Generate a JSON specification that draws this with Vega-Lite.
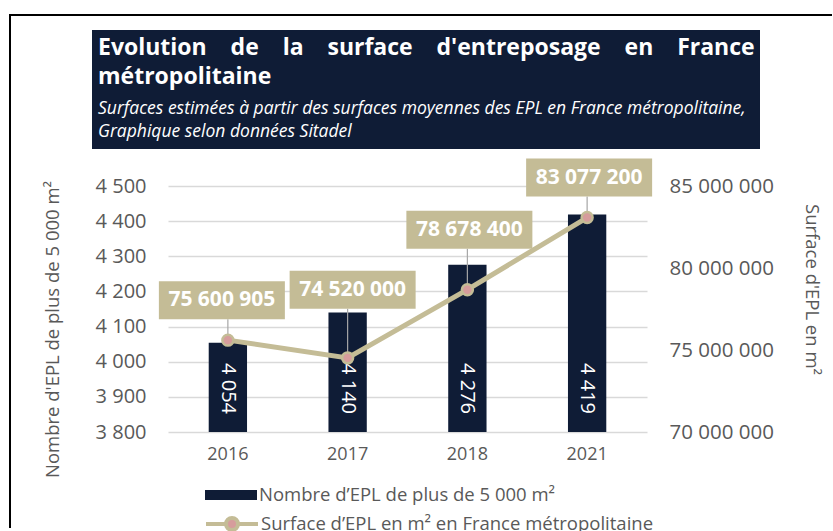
{
  "$schema": "https://vega.github.io/schema/vega-lite/v6.json",
  "background": "white",
  "padding": {"left": 8, "top": 13, "right": 0, "bottom": 0},
  "spacing": 37,
  "bounds": "flush",
  "config": {
    "font": "Open Sans",
    "view": {"stroke": null},
    "locale": {"number": {"decimal": ",", "thousands": " ", "grouping": [3], "currency": ["", " €"]}}
  },
  "datasets": {
    "epl": [
      {"year": "2016", "nombre": 4054, "surface": 75600905},
      {"year": "2017", "nombre": 4140, "surface": 74520000},
      {"year": "2018", "nombre": 4276, "surface": 78678400},
      {"year": "2021", "nombre": 4419, "surface": 83077200}
    ]
  },
  "vconcat": [
    {
      "width": 592,
      "height": 119,
      "data": {"values": [{}]},
      "encoding": {
        "x": {"datum": 0, "type": "quantitative", "scale": {"domain": [0, 1]}, "axis": null},
        "y": {"datum": 1, "type": "quantitative", "scale": {"domain": [0, 1]}, "axis": null}
      },
      "layer": [
        {
          "mark": {"type": "rule", "color": "#000000", "strokeWidth": 2, "xOffset": -158, "yOffset": -16, "y2Offset": 379},
          "encoding": {"y2": {"datum": 0}}
        },
        {
          "mark": {"type": "rule", "color": "#000000", "strokeWidth": 2, "xOffset": -159, "x2Offset": 72, "yOffset": -15},
          "encoding": {"x2": {"datum": 1}}
        },
        {
          "mark": {"type": "rect", "fill": "#0f1c36", "xOffset": -76},
          "encoding": {"x2": {"datum": 1}, "y2": {"datum": 0}}
        },
        {
          "mark": {"type": "text", "text": ["Evolution\u00a0\u00a0\u00a0 de\u00a0\u00a0\u00a0 la\u00a0\u00a0\u00a0 surface\u00a0\u00a0\u00a0 d'entreposage\u00a0\u00a0\u00a0 en\u00a0\u00a0\u00a0 France", "métropolitaine"], "align": "left", "baseline": "top", "dx": -70, "dy": 7, "fontSize": 23, "fontWeight": "bold", "lineHeight": 29, "color": "white"}
        },
        {
          "mark": {"type": "text", "text": ["Surfaces estimées à partir des surfaces moyennes des EPL en France métropolitaine,", "Graphique selon données Sitadel"], "align": "left", "baseline": "top", "dx": -70, "dy": 70, "fontSize": 17.5, "fontStyle": "italic", "lineHeight": 23, "color": "white"}
        }
      ]
    },
    {
      "width": 479,
      "height": 246,
      "data": {"name": "epl"},
      "encoding": {
        "x": {"field": "year", "type": "ordinal", "scale": {"paddingInner": 0, "paddingOuter": 0},
          "axis": {"title": null, "labelAngle": 0, "labelFontSize": 18, "labelColor": "#595959", "ticks": false, "domain": false, "labelPadding": 13}}
      },
      "layer": [
        {
          "encoding": {
            "y": {"field": "nombre", "type": "quantitative", "scale": {"domain": [3800, 4500], "nice": false, "zero": false},
              "axis": {"title": "Nombre d'EPL de plus de 5 000 m²", "values": [3800, 3900, 4000, 4100, 4200, 4300, 4400, 4500], "format": ",d", "grid": true, "gridColor": "#d9d9d9", "gridWidth": 1.5, "domain": false, "ticks": false, "labelFontSize": 20, "labelColor": "#595959", "labelPadding": 22, "titleFontSize": 18.5, "titleFontWeight": "normal", "titleColor": "#595959", "titlePadding": 33, "titleY": 143}}
          },
          "layer": [
            {
              "mark": {"type": "bar", "width": {"band": 0.32}},
              "encoding": {
                "y2": {"datum": 3800},
                "fill": {"datum": "Nombre d’EPL de plus de 5 000 m²",
                  "scale": {"domain": ["Nombre d’EPL de plus de 5 000 m²"], "range": ["#0f1c36"]},
                  "legend": {"orient": "none", "legendX": 36, "legendY": 438, "title": null, "symbolSize": 400, "labelFontSize": 18.5, "labelColor": "#595959", "labelOffset": 1, "labelLimit": 600, "padding": 0,
                    "encode": {"symbols": {"update": {
                      "shape": {"value": "M-1,-0.19L1,-0.19L1,0.19L-1,0.19Z"},
                      "size": {"value": 2704},
                      "fill": {"value": "#0f1c36"},
                      "stroke": {"value": "transparent"},
                      "opacity": {"value": 1},
                      "fillOpacity": {"value": 1}
                    }}}}
                }
              }
            },
            {
              "mark": {"type": "text", "angle": 90, "align": "right", "baseline": "middle", "color": "white", "fontSize": 20, "yOffset": -18},
              "encoding": {
                "y": {"datum": 3800, "type": "quantitative"},
                "text": {"field": "nombre", "type": "quantitative", "format": ",d"}
              }
            }
          ]
        },
        {
          "encoding": {
            "y": {"field": "surface", "type": "quantitative", "scale": {"domain": [70000000, 85000000], "nice": false, "zero": false},
              "axis": {"orient": "right", "title": "Surface d'EPL en m²", "values": [70000000, 75000000, 80000000, 85000000], "format": ",d", "grid": false, "domain": false, "ticks": false, "labelFontSize": 20.5, "labelColor": "#595959", "labelPadding": 22, "titleFontSize": 18.5, "titleFontWeight": "normal", "titleColor": "#595959", "titlePadding": 28, "titleY": 103}}
          },
          "layer": [
            {
              "mark": {"type": "rule", "color": "#a6a6a6", "strokeWidth": 1.2,
                "y2Offset": {"expr": "datum.year === '2016' ? -21 : datum.year === '2017' ? -49 : datum.year === '2018' ? -41 : -21"}},
              "encoding": {"y2": {"field": "surface"}}
            },
            {
              "mark": {"type": "line", "strokeWidth": 5},
              "encoding": {"stroke": {"datum": "Surface d’EPL en m² en France métropolitaine",
                "scale": {"domain": ["Surface d’EPL en m² en France métropolitaine"], "range": ["#c4bc96"]},
                "legend": {"orient": "none", "legendX": 36, "legendY": 466, "title": null, "symbolSize": 400, "labelFontSize": 18.5, "labelColor": "#595959", "labelOffset": 1, "labelLimit": 600, "padding": 0,
                  "encode": {"symbols": {"update": {
                    "shape": {"value": "M-1,0L-0.23,0M0.23,0L1,0M0.23,0A0.23,0.23 0 1 1 -0.23,0A0.23,0.23 0 1 1 0.23,0Z"},
                    "size": {"value": 2704},
                    "fill": {"value": "#d69c9c"},
                    "stroke": {"value": "#c4bc96"},
                    "strokeWidth": {"value": 4},
                    "opacity": {"value": 1},
                    "fillOpacity": {"value": 1},
                    "strokeOpacity": {"value": 1}
                  }}}}}}
            },
            {
              "mark": {"type": "point", "shape": "circle", "filled": true, "size": 120, "fill": "#d69c9c", "stroke": "#c4bc96", "strokeWidth": 2.5, "opacity": 1},
              "encoding": {}
            },
            {
              "mark": {"type": "point", "shape": "M-1,-0.3016L1,-0.3016L1,0.3016L-1,0.3016Z", "filled": true, "size": 15876, "fill": "#c4bc96", "strokeWidth": 0, "opacity": 1,
                "xOffset": {"expr": "datum.year === '2016' ? -6 : datum.year === '2017' ? 5 : 2"},
                "yOffset": {"expr": "datum.year === '2016' ? -40 : datum.year === '2017' ? -68 : datum.year === '2018' ? -60 : -40"}},
              "encoding": {}
            },
            {
              "mark": {"type": "text", "color": "white", "fontSize": 21, "fontWeight": "bold", "baseline": "middle", "align": "center",
                "xOffset": {"expr": "datum.year === '2016' ? -6 : datum.year === '2017' ? 5 : 2"},
                "yOffset": {"expr": "datum.year === '2016' ? -40 : datum.year === '2017' ? -68 : datum.year === '2018' ? -60 : -40"}},
              "encoding": {"text": {"field": "surface", "type": "quantitative", "format": ",d"}}
            }
          ]
        }
      ],
      "resolve": {"scale": {"y": "independent"}}
    }
  ]
}
